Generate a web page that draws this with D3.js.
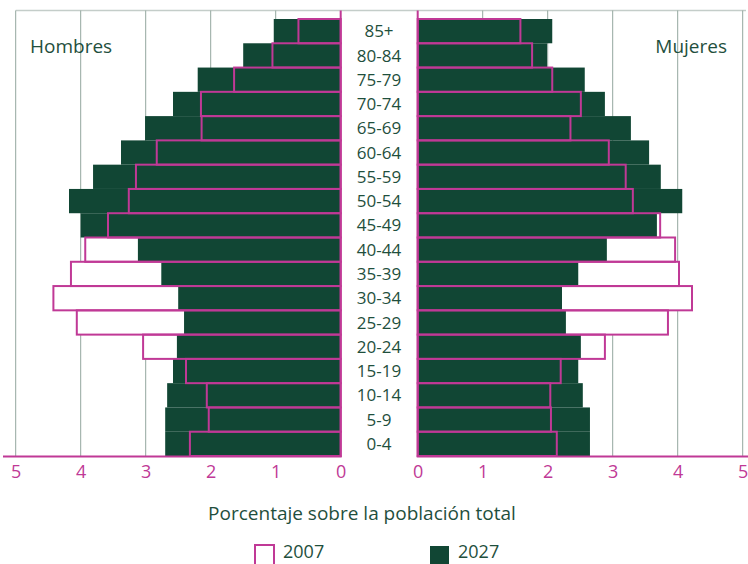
<!DOCTYPE html>
<html><head><meta charset="utf-8">
<script src="https://cdn.jsdelivr.net/npm/d3@7"></script>
<style>
body{margin:0;background:#fff;}
svg{display:block;}
text{font-family:"Open Sans",sans-serif;}
</style></head>
<body>
<svg id="c" width="748" height="564"></svg>
<script>
const ages = ["85+","80-84","75-79","70-74","65-69","60-64","55-59","50-54","45-49","40-44","35-39","30-34","25-29","20-24","15-19","10-14","5-9","0-4"];
const hombres2007 = [0.65,1.05,1.64,2.15,2.14,2.83,3.15,3.26,3.58,3.93,4.15,4.42,4.06,3.04,2.38,2.06,2.03,2.32];
const hombres2027 = [1.03,1.50,2.20,2.58,3.01,3.38,3.81,4.18,4.00,3.12,2.76,2.50,2.41,2.52,2.58,2.67,2.70,2.70];
const mujeres2007 = [1.58,1.76,2.07,2.51,2.35,2.94,3.20,3.31,3.73,3.96,4.02,4.22,3.85,2.88,2.20,2.04,2.05,2.14];
const mujeres2027 = [2.07,1.99,2.57,2.88,3.28,3.56,3.74,4.07,3.68,2.91,2.47,2.22,2.28,2.51,2.47,2.54,2.65,2.65];
const ticks = [0,1,2,3,4,5];
const seriesNames = ["2007","2027"];

const GREEN = "#114634", MAG = "#c03996", GRID = "#93a79e", TXT = "#1f4f3d";
const svg = d3.select("#c");
const xL = d3.scaleLinear().domain([0,5]).range([340.7,15.7]);
const xR = d3.scaleLinear().domain([0,5]).range([417.7,742.7]);
const y = d3.scaleBand().domain(ages).range([19,456]).padding(0);
const yTop = 10.5, yBase = 456.5;

svg.append("line").attr("x1",xL(5)).attr("x2",746).attr("y1",yTop).attr("y2",yTop)
  .attr("stroke","#c4cdc9").attr("stroke-width",1.5);
ticks.filter(t=>t>0).forEach(t=>{
  svg.append("line").attr("x1",xL(t)).attr("x2",xL(t)).attr("y1",yTop).attr("y2",yBase)
    .attr("stroke",GRID).attr("stroke-width",1);
  svg.append("line").attr("x1",xR(t)).attr("x2",xR(t)).attr("y1",yTop).attr("y2",yBase)
    .attr("stroke",GRID).attr("stroke-width",1);
});

function side(x, v07, v27, sign){
  const g = svg.append("g");
  g.selectAll(".w").data(ages).join("rect")
    .attr("x",(d,i)=> sign<0 ? x(v07[i]) : x(0))
    .attr("width",(d,i)=> Math.abs(x(v07[i])-x(0)))
    .attr("y",d=>y(d)).attr("height",y.bandwidth()).attr("fill","#fff");
  g.selectAll(".g").data(ages).join("rect")
    .attr("x",(d,i)=> sign<0 ? x(v27[i]) : x(0))
    .attr("width",(d,i)=> Math.abs(x(v27[i])-x(0)))
    .attr("y",d=>y(d)).attr("height",y.bandwidth()).attr("fill",GREEN);
  g.selectAll(".o").data(ages).join("rect")
    .attr("x",(d,i)=> sign<0 ? x(v07[i]) : x(0))
    .attr("width",(d,i)=> Math.abs(x(v07[i])-x(0)))
    .attr("y",d=>y(d)).attr("height",y.bandwidth())
    .attr("fill","none").attr("stroke",MAG).attr("stroke-width",2);
  g.append("line").attr("x1",x(0)).attr("x2",x(0)).attr("y1",yTop).attr("y2",yBase)
    .attr("stroke",MAG).attr("stroke-width",2);
}
side(xL, hombres2007, hombres2027, -1);
side(xR, mujeres2007, mujeres2027, 1);

svg.append("line").attr("x1",3).attr("x2",xL(0)+1).attr("y1",yBase).attr("y2",yBase).attr("stroke",MAG).attr("stroke-width",2);
svg.append("line").attr("x1",xR(0)-1).attr("x2",748).attr("y1",yBase).attr("y2",yBase).attr("stroke",MAG).attr("stroke-width",2);

function axis(x){
  const a = svg.append("g").attr("transform",`translate(0,${yBase})`)
    .call(d3.axisBottom(x).tickValues(ticks).tickSize(0).tickPadding(9).tickFormat(d3.format("d")));
  a.select(".domain").remove();
  a.selectAll("text").attr("fill",MAG).style("font-size","18px")
    .style("font-family",'"Open Sans",sans-serif');
}
axis(xL); axis(xR);

svg.append("g").selectAll("text").data(ages).join("text")
  .attr("x",379).attr("y",d=>y(d)+y.bandwidth()/2).attr("dy","0.36em")
  .attr("text-anchor","middle").attr("fill",TXT)
  .style("font-size","17px").text(d=>d);

svg.append("text").attr("x",30).attr("y",53).attr("fill",TXT)
  .style("font-size","19px").text("Hombres");
svg.append("text").attr("x",727).attr("y",53).attr("text-anchor","end").attr("fill",TXT)
  .style("font-size","19px").text("Mujeres");

svg.append("text").attr("x",362).attr("y",520).attr("text-anchor","middle").attr("fill",TXT)
  .style("font-size","19px").text("Porcentaje sobre la población total");

const leg = svg.append("g");
leg.append("rect").attr("x",255).attr("y",545).attr("width",19).attr("height",20)
  .attr("fill","#fff").attr("stroke",MAG).attr("stroke-width",2);
leg.append("text").attr("x",283).attr("y",558).attr("fill",TXT).style("font-size","18px").text(seriesNames[0]);
leg.append("rect").attr("x",430).attr("y",546).attr("width",19).attr("height",20).attr("fill",GREEN);
leg.append("text").attr("x",458).attr("y",558).attr("fill",TXT).style("font-size","18px").text(seriesNames[1]);
</script>
</body></html>
